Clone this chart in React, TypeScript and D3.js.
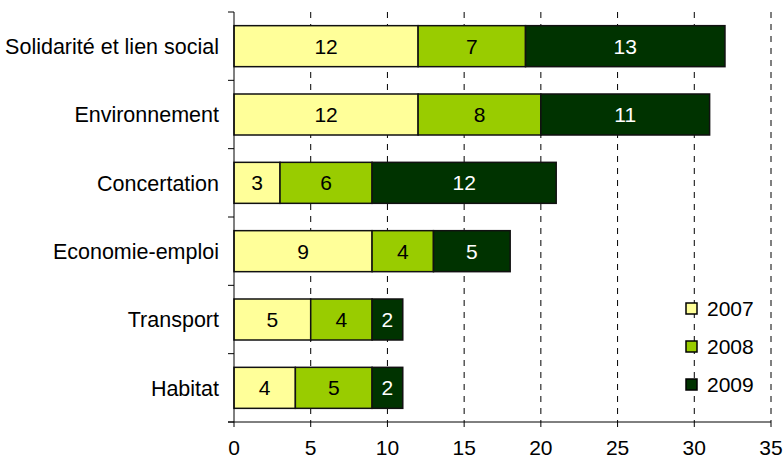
import React from "react";
import * as d3 from "d3";

const categories = [
  "Solidarité et lien social",
  "Environnement",
  "Concertation",
  "Economie-emploi",
  "Transport",
  "Habitat",
];
const years = ["2007", "2008", "2009"];
const v2007 = [12, 12, 3, 9, 5, 4];
const v2008 = [7, 8, 6, 4, 4, 5];
const v2009 = [13, 11, 12, 5, 2, 2];
const xTicks = [0, 5, 10, 15, 20, 25, 30, 35];
const colors = ["#FFFF99", "#99CC00", "#003300"];
const textColors = ["#000", "#000", "#fff"];

const W = 783;
const H = 463;
const left = 234;
const right = 771;
const top = 12;
const bottom = 422;
const font = "Arial, 'Liberation Sans', sans-serif";

export default function App() {
  const x = d3.scaleLinear().domain([0, 35]).range([left, right]);
  const y = d3.scaleBand<string>().domain(categories).range([top, bottom]).paddingInner(0.4).paddingOuter(0.2);
  const step = y.step();
  const rows = categories.map((c, i) => ({ cat: c, vals: [v2007[i], v2008[i], v2009[i]] }));
  const stack = d3.stack<any>().keys(["0", "1", "2"]).value((d, k) => d.vals[+k]);
  const series = stack(rows as any);

  return (
    <svg width={W} height={H} style={{ position: "absolute", left: 0, top: 0, background: "#fff" }} fontFamily={font}>
      {/* grid */}
      {xTicks.filter((t) => t > 0).map((t) => (
        <line key={t} x1={x(t)} x2={x(t)} y1={top} y2={bottom} stroke="#000" strokeWidth={1} strokeDasharray="6,6" />
      ))}
      {/* bars */}
      {series.map((s, si) =>
        s.map((d, i) => {
          const x0 = x(d[0]);
          const x1 = x(d[1]);
          const yy = y(categories[i])!;
          return (
            <g key={si + "-" + i}>
              <rect x={x0} y={yy} width={x1 - x0} height={y.bandwidth()} fill={colors[si]} stroke="#111" strokeWidth={1.5} />
              <text x={(x0 + x1) / 2} y={yy + y.bandwidth() / 2} dy="0.36em" textAnchor="middle" fontSize={21} fill={textColors[si]}>
                {rows[i].vals[si]}
              </text>
            </g>
          );
        })
      )}
      {/* y axis */}
      <line x1={left} x2={left} y1={top} y2={bottom} stroke="#000" strokeWidth={1} />
      {d3.range(categories.length + 1).map((k) => (
        <line key={k} x1={left - 6} x2={left} y1={top + k * step} y2={top + k * step} stroke="#000" strokeWidth={1} />
      ))}
      {categories.map((c) => (
        <text key={c} x={219} y={y(c)! + y.bandwidth() / 2} dy="0.36em" textAnchor="end" fontSize={21.5} fill="#000">
          {c}
        </text>
      ))}
      {/* x axis */}
      <line x1={left - 6} x2={right} y1={bottom} y2={bottom} stroke="#000" strokeWidth={1} />
      {xTicks.map((t) => (
        <g key={t}>
          <line x1={x(t)} x2={x(t)} y1={bottom} y2={bottom + 5} stroke="#000" strokeWidth={1} />
          <text x={x(t)} y={455} textAnchor="middle" fontSize={21} fill="#000">
            {t}
          </text>
        </g>
      ))}
      {/* legend */}
      {years.map((yr, i) => (
        <g key={yr} transform={`translate(686, ${303 + i * 38})`}>
          <rect x={0} y={0} width={11} height={11} fill={colors[i]} stroke="#000" strokeWidth={1.5} />
          <text x={21} y={5.5} dy="0.36em" fontSize={21} fill="#000">
            {yr}
          </text>
        </g>
      ))}
    </svg>
  );
}
